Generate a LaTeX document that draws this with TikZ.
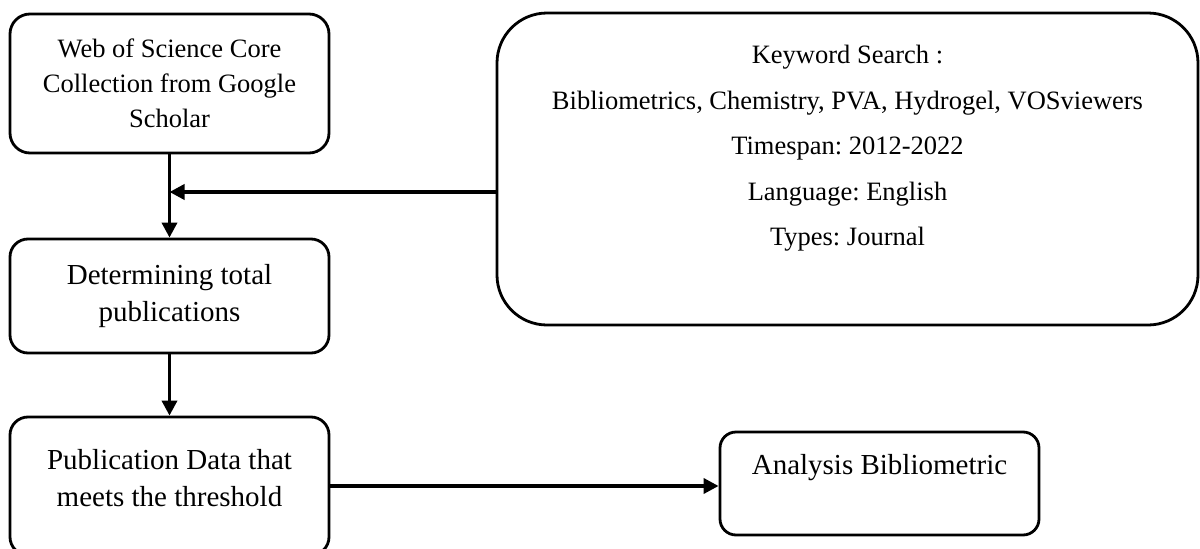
\documentclass[tikz,border=0pt]{standalone}
\usepackage{fontspec}
\setmainfont{Liberation Serif}
\usetikzlibrary{arrows.meta}
\frenchspacing
\begin{document}
\begin{tikzpicture}[x=1pt,y=-1pt,
  box/.style={draw, line width=2.8pt, rounded corners=#1, inner sep=0pt, align=center},
  box/.default=18pt,
  flow/.style={line width=3.5pt, -{Triangle[length=15pt,width=15pt]}},
  bigtext/.style={font=\fontsize{29}{37}\selectfont},
  smalltext/.style={font=\fontsize{26.5}{35}\selectfont},
]
\useasboundingbox (0,0) rectangle (1200,549);

% left column of process steps
\node[box=20pt, smalltext, minimum width=319pt, minimum height=139pt] (src) at (169.5,83.5)
  {Web of Science Core\\Collection from Google\\Scholar};
\node[box, bigtext, minimum width=319pt, minimum height=114pt] (det) at (169.5,296)
  {Determining total\\publications};
\node[box, bigtext, minimum width=319pt, minimum height=138pt] (pub) at (169.5,486)
  {\raisebox{5pt}[\height][\depth]{\begin{tabular}{@{}c@{}}Publication Data that\\meets the threshold\end{tabular}}};

% search criteria
\node[box=50pt, minimum width=701pt, minimum height=312pt] (kw) at (847.5,169) {};
\node[anchor=north, inner sep=0pt, align=center, font=\fontsize{26.5}{45.5}\selectfont]
  (kwtext) at (847.5,45)
  {Keyword Search :\\
   Bibliometrics, Chemistry, PVA, Hydrogel, VOSviewers\\
   Timespan: 2012-2022\\
   Language: English\\
   Types: Journal};

% result
\node[box=16pt, bigtext, minimum width=319pt, minimum height=103pt,
      text height=20pt, text depth=39pt] (res) at (879.5,483.5) {Analysis Bibliometric};

% connectors
\coordinate (join) at (169.5,192);
\draw[flow] (src.south) -- (det.north);
\draw[flow] (kw.west |- join) -- (join);
\draw[flow] (det.south) -- (pub.north);
\draw[flow] (pub.east) -- (res.west |- pub.east);
\end{tikzpicture}
\end{document}
